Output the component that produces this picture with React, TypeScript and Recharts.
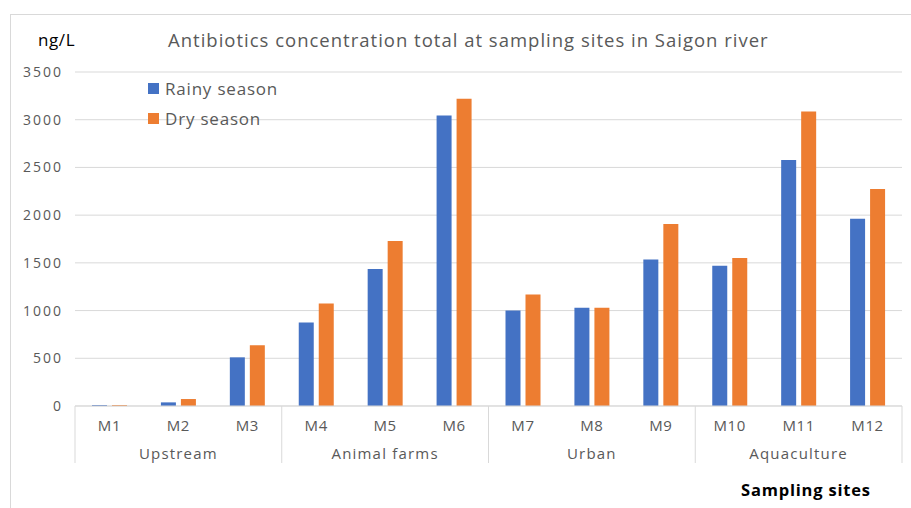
import { Bar, BarChart, CartesianGrid, Legend, XAxis, YAxis } from "recharts";

const sites = ["M1", "M2", "M3", "M4", "M5", "M6", "M7", "M8", "M9", "M10", "M11", "M12"];
const groups = ["Upstream", "Animal farms", "Urban", "Aquaculture"];
const rainySeason = [10, 38, 510, 875, 1435, 3045, 1000, 1030, 1535, 1470, 2578, 1962];
const drySeason = [10, 73, 636, 1073, 1728, 3220, 1168, 1030, 1906, 1552, 3087, 2273];
const yTicks = [0, 500, 1000, 1500, 2000, 2500, 3000, 3500];

const data = sites.map((site, i) => ({
  site,
  group: groups[Math.floor(i / 3)],
  rainy: rainySeason[i],
  dry: drySeason[i],
}));

const FONT = "'Open Sans', sans-serif";
const BLUE = "#4472C4";
const ORANGE = "#ED7D31";
const GRID = "#d9d9d9";
const TEXT = "#595959";

function SiteTick(props: any) {
  const { x, y, payload, index } = props;
  const half = payload?.offset ?? 827 / 24;
  const i = index ?? payload.index;
  return (
    <g>
      <text
        x={x}
        y={y + 25}
        textAnchor="middle"
        fill={TEXT}
        fontSize={15}
        letterSpacing={0.6}
        fontFamily={FONT}
      >
        {payload.value}
      </text>
      {i % 3 === 1 && (
        <text
          x={x}
          y={y + 53}
          textAnchor="middle"
          fill={TEXT}
          fontSize={15}
          letterSpacing={1.2}
          fontFamily={FONT}
        >
          {data[i].group}
        </text>
      )}
      {i % 3 === 0 && <line x1={x - half} x2={x - half} y1={y} y2={y + 57} stroke={GRID} />}
      {i === sites.length - 1 && <line x1={x + half} x2={x + half} y1={y} y2={y + 57} stroke={GRID} />}
    </g>
  );
}

function LegendBox() {
  const items = [
    { label: "Rainy season", color: BLUE },
    { label: "Dry season", color: ORANGE },
  ];
  return (
    <div style={{ fontFamily: FONT, fontSize: 17, letterSpacing: 0.8, color: TEXT }}>
      {items.map((it) => (
        <div key={it.label} style={{ display: "flex", alignItems: "center", height: 30 }}>
          <span
            style={{ width: 11, height: 11, background: it.color, marginRight: 6, display: "inline-block" }}
          />
          {it.label}
        </div>
      ))}
    </div>
  );
}

export default function App() {
  return (
    <div
      style={{
        position: "fixed",
        left: 0,
        top: 0,
        width: 911,
        height: 508,
        overflow: "hidden",
        background: "#fff",
        fontFamily: FONT,
      }}
    >
      <div
        style={{
          position: "absolute",
          left: 10,
          top: 14,
          width: 920,
          height: 520,
          border: `1px solid ${GRID}`,
        }}
      />
      <div
        style={{ position: "absolute", left: 38, top: 28, fontSize: 17, letterSpacing: 0.6, color: "#000" }}
      >
        ng/L
      </div>
      <div
        style={{
          position: "absolute",
          left: 168,
          top: 27,
          fontSize: 18.5,
          letterSpacing: 1,
          color: TEXT,
          whiteSpace: "nowrap",
        }}
      >
        Antibiotics concentration total at sampling sites in Saigon river
      </div>
      <div
        style={{
          position: "absolute",
          left: 741,
          top: 478,
          fontSize: 16.5,
          letterSpacing: 0.8,
          fontWeight: 700,
          color: "#000",
          whiteSpace: "nowrap",
        }}
      >
        Sampling sites
      </div>
      <div style={{ position: "absolute", left: 0, top: 0 }}>
        <BarChart
          width={911}
          height={508}
          data={data}
          margin={{ top: 72, right: 9, left: 0, bottom: 0 }}
          barSize={15}
          barGap={5}
        >
          <CartesianGrid stroke={GRID} vertical={false} />
          <XAxis
            dataKey="site"
            height={102}
            interval={0}
            stroke={GRID}
            tickLine={false}
            tickSize={0}
            tickMargin={0}
            tick={<SiteTick />}
          />
          <YAxis
            width={75}
            domain={[0, 3500]}
            ticks={yTicks}
            axisLine={false}
            tickLine={false}
            tickMargin={6}
            tick={{ fill: TEXT, fontSize: 14, letterSpacing: 2, fontFamily: FONT }}
          />
          <Legend
            layout="horizontal"
            verticalAlign="middle"
            align="center"
            content={<LegendBox />}
            wrapperStyle={{ position: "absolute", left: 148, top: 73, width: 200, height: 60 }}
          />
          <Bar dataKey="rainy" name="Rainy season" fill={BLUE} isAnimationActive={false} />
          <Bar dataKey="dry" name="Dry season" fill={ORANGE} isAnimationActive={false} />
        </BarChart>
      </div>
    </div>
  );
}
